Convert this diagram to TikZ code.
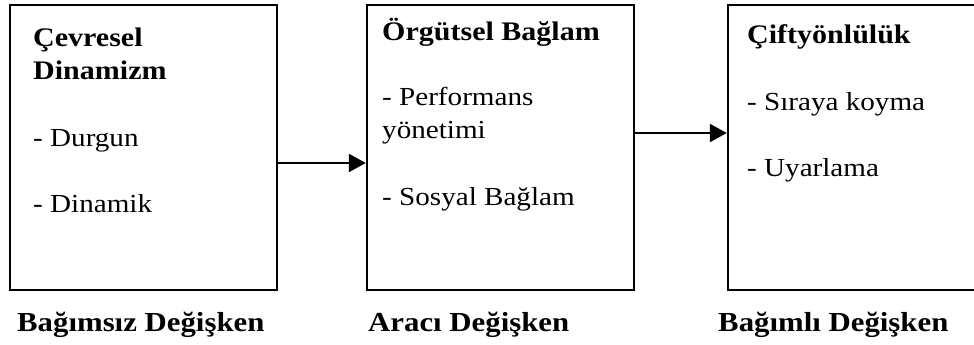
\documentclass[tikz,border=0pt]{standalone}
\usepackage{fontspec}
\setmainfont{Liberation Serif}[FakeStretch=1.12]
\usetikzlibrary{arrows.meta}
\begin{document}
\begin{tikzpicture}[x=1pt,y=-1pt,
  box/.style={draw=black,line width=2.4pt,inner sep=0pt,minimum height=285pt},
  txt/.style={anchor=base west,inner sep=0pt,font=\fontsize{26}{33}\selectfont},
  hd/.style={txt,font=\fontsize{26.8}{33}\selectfont\bfseries},
  lbl/.style={txt,font=\fontsize{27.5}{33}\selectfont\bfseries},
  arrow/.style={line width=2.2pt,-{Triangle[length=17pt,width=18pt]}}]
\useasboundingbox (0,0) rectangle (974,345);
% the three boxes
\node[box,minimum width=267pt] (b1) at (143.5,147.5) {};
\node[box,minimum width=267pt] (b2) at (500.5,147.5) {};
\node[box,minimum width=272pt] (b3) at (864,147.5) {};
% box contents
\node[hd] (t1a) at (33,47) {Çevresel};
\node[hd] (t1b) at (33,80) {Dinamizm};
\node[txt] (t1c) at (33,146) {- Durgun};
\node[txt] (t1d) at (33,212) {- Dinamik};
\node[hd] (t2a) at (382,41) {Örgütsel Bağlam};
\node[txt] (t2b) at (382,105) {- Performans};
\node[txt] (t2c) at (382,138) {yönetimi};
\node[txt] (t2d) at (382,205) {- Sosyal Bağlam};
\node[hd] (t3a) at (747,44) {Çiftyönlülük};
\node[txt] (t3b) at (747,110) {- Sıraya koyma};
\node[txt] (t3c) at (747,176) {- Uyarlama};
% labels under the boxes
\node[lbl] (l1) at (17,331) {Bağımsız Değişken};
\node[lbl] (l2) at (368,331) {Aracı Değişken};
\node[lbl] (l3) at (718,331) {Bağımlı Değişken};
% connectors
\draw[arrow] ([yshift=-15.5pt]b1.east) -- ([yshift=-15.5pt]b2.west);
\draw[arrow] ([yshift=14.5pt]b2.east) -- ([yshift=14.5pt]b3.west);
\end{tikzpicture}
\end{document}
